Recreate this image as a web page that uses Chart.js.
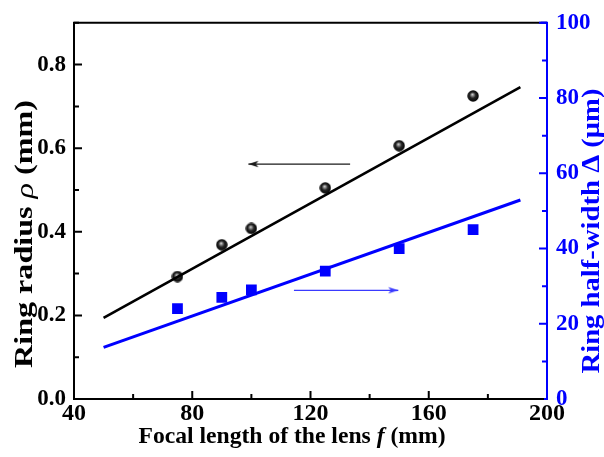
<!DOCTYPE html>
<html>
<head>
<meta charset="utf-8">
<script src="https://cdn.jsdelivr.net/npm/chart.js@4.4.1/dist/chart.umd.min.js"></script>
<style>
html,body{margin:0;padding:0;background:#fff;}
#c{display:block;}
</style>
</head>
<body>
<canvas id="c" width="604" height="457"></canvas>
<script>
// ---- data ----
const focalLengths = [75, 90, 100, 125, 150, 175];          // f (mm)
const ringRadius   = [0.293, 0.369, 0.408, 0.505, 0.606, 0.725]; // rho (mm)
const halfWidth    = [24, 27, 29, 34, 40, 45];               // Delta (um)

const fitX         = [50, 191];
const fitRadius    = [0.194, 0.746];
const fitHalfWidth = [13.7, 52.9];

const arrowRadiusX = [99, 133.4];   const arrowRadiusY = [0.562, 0.562];
const arrowWidthX  = [114.4, 149.7]; const arrowWidthY  = [28.9, 28.9];

const xTicks  = [40, 80, 120, 160, 200];
const yTicks  = [0.0, 0.2, 0.4, 0.6, 0.8];
const y1Ticks = [0, 20, 40, 60, 80, 100];

const xTitle  = [['Focal length of the lens ', 'bold'], ['f', 'italic bold'], [' (mm)', 'bold']];
const yTitle  = [['Ring radius ', 'bold'], ['\u03C1', 'italic'], [' (mm)', 'bold']];
const y1Title = [['Ring half-width \u0394 (\u03BCm)', 'bold']];

const BLUE = '#0000ff';
const SERIF = '"Liberation Serif", "Times New Roman", serif';

// ---- marker images ----
function sphere(d) {
  const c = document.createElement('canvas'); c.width = d; c.height = d;
  const g = c.getContext('2d'); const r = d / 2;
  const grad = g.createRadialGradient(r - 0.8, r - 1.6, 0, r, r, r);
  grad.addColorStop(0, '#e0e0e0'); grad.addColorStop(0.22, '#8a8a8a');
  grad.addColorStop(0.5, '#262626'); grad.addColorStop(1, '#000');
  g.fillStyle = grad; g.beginPath(); g.arc(r, r, r - 0.3, 0, Math.PI * 2); g.fill();
  return c;
}
function arrowHead(color) {
  const c = document.createElement('canvas'); c.width = 24; c.height = 8;
  const g = c.getContext('2d'); g.fillStyle = color;
  g.beginPath(); g.moveTo(12, 4); g.lineTo(2, 0.8); g.lineTo(4.5, 4); g.lineTo(2, 7.2); g.closePath(); g.fill();
  return c;
}
const sphereImg = sphere(12);
const headBlack = arrowHead('#1a1a1a');
const headBlue = arrowHead('#3a3aff');

const pts = (xs, ys) => xs.map((x, i) => ({x: x, y: ys[i]}));

// ---- plugins ----
const whiteBg = {
  id: 'whiteBg',
  beforeDraw(ch) { const c = ch.ctx; c.save(); c.fillStyle = '#fff'; c.fillRect(0, 0, ch.width, ch.height); c.restore(); }
};

const frameTicks = {
  id: 'frameTicks',
  afterDraw(ch) {
    const c = ch.ctx, a = ch.chartArea, sx = ch.scales.x, sy = ch.scales.y, sy1 = ch.scales.y1;
    c.save(); c.lineWidth = 2; c.lineCap = 'butt';
    c.strokeStyle = '#000'; c.beginPath(); c.moveTo(a.left - 1, a.top); c.lineTo(a.right, a.top); c.stroke();
    const MAJ = 8, MIN = 5;
    c.strokeStyle = '#000'; c.beginPath();
    for (let i = 0; i < xTicks.length; i++) {
      const p = sx.getPixelForValue(xTicks[i]);
      if (i > 0 && i < xTicks.length - 1) { c.moveTo(p, a.bottom); c.lineTo(p, a.bottom - MAJ); }
      if (i < xTicks.length - 1) { const m = sx.getPixelForValue((xTicks[i] + xTicks[i + 1]) / 2); c.moveTo(m, a.bottom); c.lineTo(m, a.bottom - MIN); }
    }
    for (let i = 0; i < yTicks.length; i++) {
      const p = sy.getPixelForValue(yTicks[i]);
      if (i > 0) { c.moveTo(a.left, p); c.lineTo(a.left + MAJ, p); }
      const m = sy.getPixelForValue(yTicks[i] + 0.1); c.moveTo(a.left, m); c.lineTo(a.left + MIN, m);
    }
    c.stroke();
    c.strokeStyle = BLUE; c.beginPath();
    for (let i = 0; i < y1Ticks.length; i++) {
      const p = sy1.getPixelForValue(y1Ticks[i]);
      if (i > 0) { c.moveTo(a.right, p); c.lineTo(a.right - MAJ, p); }
      if (i < y1Ticks.length - 1) { const m = sy1.getPixelForValue((y1Ticks[i] + y1Ticks[i + 1]) / 2); c.moveTo(a.right, m); c.lineTo(a.right - MIN, m); }
    }
    c.stroke();
    c.beginPath(); c.moveTo(a.right - 3, a.bottom); c.lineTo(a.right + 1, a.bottom); c.moveTo(a.right - 6, a.top); c.lineTo(a.right + 1, a.top); c.stroke();
    c.restore();
  }
};

// draws text made of several font runs, centred at (cx,cy), stretched along its direction to a target length
function drawMixed(c, parts, size, color, cx, cy, rot, targetLen) {
  c.save(); c.translate(cx, cy); c.rotate(rot); c.fillStyle = color; c.textBaseline = 'middle';
  let total = 0;
  parts.forEach(p => { c.font = p[1] + ' ' + size + 'px ' + SERIF; total += c.measureText(p[0]).width; });
  const s = targetLen ? targetLen / total : 1;
  c.scale(s, 1);
  let x = -total / 2;
  parts.forEach(p => { c.font = p[1] + ' ' + size + 'px ' + SERIF; c.textAlign = 'left'; c.fillText(p[0], x, 0); x += c.measureText(p[0]).width; });
  c.restore();
}
const axisTitles = {
  id: 'axisTitles',
  afterDraw(ch) {
    const c = ch.ctx;
    drawMixed(c, xTitle, 24, '#000', 292, 437, 0, 307);
    drawMixed(c, yTitle, 25, '#000', 26, 234, -Math.PI / 2, 268);
    drawMixed(c, y1Title, 25, BLUE, 593, 231, -Math.PI / 2, 285);
  }
};

// ---- chart ----
new Chart(document.getElementById('c'), {
  type: 'scatter',
  data: {
    datasets: [
      { type: 'line', data: pts(fitX, fitRadius), yAxisID: 'y', borderColor: '#000', borderWidth: 2.6, pointRadius: 0, fill: false },
      { type: 'line', data: pts(fitX, fitHalfWidth), yAxisID: 'y1', borderColor: BLUE, borderWidth: 3, pointRadius: 0, fill: false },
      { data: pts(focalLengths, ringRadius), yAxisID: 'y', pointStyle: sphereImg, pointRadius: 6 },
      { data: pts(focalLengths, halfWidth), yAxisID: 'y1', pointStyle: 'rect', pointRadius: 7.6, backgroundColor: BLUE, borderWidth: 0 },
      { type: 'line', data: pts(arrowRadiusX, arrowRadiusY), yAxisID: 'y', borderColor: '#1a1a1a', borderWidth: 1.3,
        pointStyle: headBlack, pointRadius: [4, 0], pointRotation: 180, fill: false },
      { type: 'line', data: pts(arrowWidthX, arrowWidthY), yAxisID: 'y1', borderColor: '#3a3aff', borderWidth: 1.3,
        pointStyle: headBlue, pointRadius: [0, 4], pointRotation: 0, fill: false }
    ]
  },
  options: {
    responsive: false,
    animation: false,
    layout: { padding: { top: 18, left: 0, right: 0, bottom: 0 } },
    plugins: { legend: { display: false }, tooltip: { enabled: false } },
    scales: {
      x: {
        type: 'linear', min: 40, max: 200,
        afterBuildTicks: s => { s.ticks = xTicks.map(v => ({value: v})); },
        afterFit: s => { s.height = 58; },
        ticks: { font: { family: SERIF, size: 24, weight: 'bold' }, color: '#000', padding: 0, maxRotation: 0, callback: v => String(v) },
        grid: { display: true, drawOnChartArea: false, drawTicks: false },
        border: { display: true, color: '#000', width: 2 }
      },
      y: {
        type: 'linear', position: 'left', min: 0, max: 0.9,
        afterBuildTicks: s => { s.ticks = yTicks.map(v => ({value: v})); },
        afterFit: s => { s.width = 74; },
        ticks: { font: { family: SERIF, size: 23, weight: 'bold' }, color: '#000', padding: 8, callback: v => Number(v).toFixed(1) },
        grid: { display: true, drawOnChartArea: false, drawTicks: false },
        border: { display: true, color: '#000', width: 2 }
      },
      y1: {
        type: 'linear', position: 'right', min: 0, max: 100,
        afterBuildTicks: s => { s.ticks = y1Ticks.map(v => ({value: v})); },
        afterFit: s => { s.width = 57; },
        ticks: { font: { family: SERIF, size: 23, weight: 'bold' }, color: BLUE, padding: 9, callback: v => String(v) },
        grid: { display: true, drawOnChartArea: false, drawTicks: false },
        border: { display: true, color: BLUE, width: 2 }
      }
    }
  },
  plugins: [whiteBg, frameTicks, axisTitles]
});
</script>
</body>
</html>
